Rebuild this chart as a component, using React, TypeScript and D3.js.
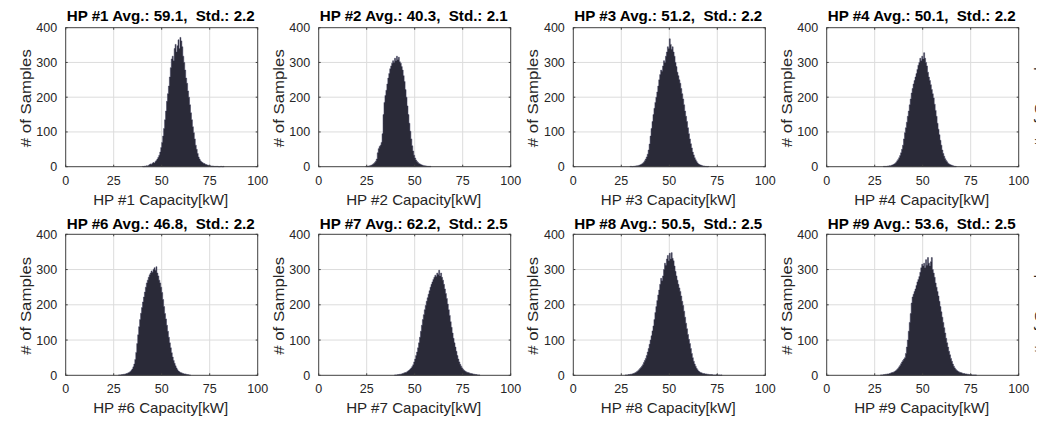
import React from 'react';
import * as d3 from 'd3';

// ---- data ----
const BIN_WIDTH = 0.5;
const hpIds = ['1', '2', '3', '4', '6', '7', '8', '9'];
const avgLabels = ['59.1', '40.3', '51.2', '50.1', '46.8', '62.2', '50.5', '53.6'];
const stdLabels = ['2.2', '2.1', '2.2', '2.2', '2.2', '2.5', '2.5', '2.5'];
const binStarts = [40, 24.5, 29.5, 29.5, 27.5, 39.5, 27, 28];
const xTicks = [0, 25, 50, 75, 100];
const yTicks = [0, 100, 200, 300, 400];

const hp1Counts = [1,0,2,1,3,2,4,6,8,7,10,12,11,15,18,22,27,33,42,55,70,88,110,135,160,188,210,232,258,285,310,318,305,340,352,330,348,365,340,372,362,345,318,300,278,255,240,218,200,178,155,135,115,98,80,62,50,38,28,22,17,14,12,10,9,7,6,5,4,4,3,2,2,2,1,1,1,1,1,0,0,1,1,0,1];
const hp2Counts = [1,1,2,2,3,4,5,7,9,12,16,22,40,52,58,62,70,95,150,185,205,220,238,255,268,282,290,298,305,300,312,305,318,308,315,302,298,288,278,262,245,222,200,175,150,125,102,80,60,45,33,25,19,15,12,9,8,6,5,4,3,3,2,2,1,1,1,1];
const hp3Counts = [1,1,0,1,1,2,2,3,3,4,5,6,8,10,13,17,22,28,36,48,65,88,110,130,150,168,185,200,215,232,250,265,278,275,290,305,300,318,330,345,340,368,352,338,345,330,318,300,288,272,262,250,240,225,210,195,178,160,145,130,112,95,80,66,54,42,34,26,20,15,11,8,6,5,4,3,2,2,1,1,0,1];
const hp4Counts = [1,1,1,1,2,2,3,3,4,5,6,8,10,13,17,21,26,32,40,50,62,80,98,112,128,145,160,178,195,212,225,238,248,258,268,280,292,300,312,305,318,310,328,312,300,290,272,258,248,236,222,210,198,180,162,145,125,108,92,76,62,48,38,30,23,18,14,10,8,6,5,4,3,2,1,1];
const hp6Counts = [1,1,1,2,2,3,3,4,5,6,7,9,11,14,18,24,32,45,65,90,115,138,158,176,192,208,222,236,250,262,270,278,285,290,296,292,300,305,298,308,290,282,270,262,250,235,215,195,175,160,142,125,108,92,78,64,52,42,34,27,21,16,12,10,8,7,6,5,4,4,3,2,2,1,1];
const hp7Counts = [1,1,1,2,2,3,3,4,5,6,7,8,9,11,13,15,18,21,25,30,38,46,56,66,78,92,108,125,142,158,172,186,198,210,220,230,240,250,258,265,272,278,284,280,290,286,298,282,290,278,270,258,245,232,218,202,186,170,152,136,120,105,92,80,68,56,46,38,31,26,21,17,14,12,10,9,8,7,6,5,5,4,3,3,2,2,1,1,1];
const hp8Counts = [1,1,1,2,2,3,3,4,5,6,7,9,11,13,16,19,22,26,30,36,42,48,56,66,76,88,100,112,126,140,158,178,195,212,228,242,258,275,268,282,300,318,312,330,340,325,346,330,348,332,325,310,295,282,270,258,248,238,225,210,198,182,165,148,132,116,102,90,76,62,50,40,32,26,20,16,12,10,8,7,6,5,5,4,4,3,3,2,2,2,2,1,1,1,1,2,1,1,1,0,1];
const hp9Counts = [1,1,1,2,2,3,3,4,4,5,6,7,8,9,10,12,14,17,20,24,28,33,38,42,46,50,62,80,100,125,150,175,205,222,230,238,245,255,265,272,280,292,305,315,310,318,305,328,312,334,318,310,322,334,300,290,278,262,250,238,225,210,195,180,165,150,135,120,105,92,80,68,58,48,40,32,26,21,17,14,12,10,9,8,7,6,5,5,4,4,3,3,2,2,2,1,1,1,1,1];

const countsList = [hp1Counts, hp2Counts, hp3Counts, hp4Counts, hp6Counts, hp7Counts, hp8Counts, hp9Counts];

// ---- layout ----
const W = 1041;
const H = 423;
const colLefts = [65.7, 318.7, 573.3, 826.7];
const plotW = 192;
const rowTops = [27.7, 234.3];
const rowHeights = [139, 141];
const titleGap = [7, 5];

const FONT = 'Liberation Sans, Arial, Helvetica, sans-serif';
const textColor = '#262626';
const axisColor = '#404040';
const gridColor = '#dcdcdc';
const barColor = '#2a2a38';
const barEdge = '#3a3a58';

type Bin = { x: number; c: number };

function Panel({ idx }: { idx: number }) {
  const col = idx % 4;
  const row = Math.floor(idx / 4);
  const left = colLefts[col];
  const top = rowTops[row];
  const h = rowHeights[row];
  const x = d3.scaleLinear().domain([0, 100]).range([left, left + plotW]);
  const y = d3.scaleLinear().domain([0, 400]).range([top + h, top]);
  const counts = countsList[idx];
  const start = binStarts[idx];
  const id = hpIds[idx];

  const bins: Bin[] = counts.map((c, k) => ({ x: start + k * BIN_WIDTH, c }));
  bins.push({ x: start + counts.length * BIN_WIDTH, c: 0 });
  const area = d3
    .area<Bin>()
    .x((d) => x(d.x))
    .y0(y(0))
    .y1((d) => y(d.c))
    .curve(d3.curveStepAfter);

  return (
    <g>
      {/* grid */}
      {xTicks.slice(1, -1).map((t) => (
        <line key={'gx' + t} x1={x(t)} x2={x(t)} y1={top} y2={top + h} stroke={gridColor} strokeWidth={1} />
      ))}
      {yTicks.slice(1, -1).map((t) => (
        <line key={'gy' + t} x1={left} x2={left + plotW} y1={y(t)} y2={y(t)} stroke={gridColor} strokeWidth={1} />
      ))}
      {/* histogram bars */}
      <path d={area(bins) || ''} fill={barColor} stroke={barEdge} strokeWidth={0.5} />
      {/* box */}
      <rect x={left} y={top} width={plotW} height={h} fill="none" stroke={axisColor} strokeWidth={1} />
      {/* ticks */}
      {xTicks.map((t) => (
        <g key={'tx' + t}>
          <line x1={x(t)} x2={x(t)} y1={top + h} y2={top + h - 2} stroke={axisColor} />
          <line x1={x(t)} x2={x(t)} y1={top} y2={top + 2} stroke={axisColor} />
          <text x={x(t)} y={top + h + 18} textAnchor="middle" fontSize={12.5} fontFamily={FONT} fill={textColor}>
            {t}
          </text>
        </g>
      ))}
      {yTicks.map((t) => (
        <g key={'ty' + t}>
          <line x1={left} x2={left + 2} y1={y(t)} y2={y(t)} stroke={axisColor} />
          <line x1={left + plotW} x2={left + plotW - 2} y1={y(t)} y2={y(t)} stroke={axisColor} />
          <text x={left - 8.5} y={y(t)} dy="0.36em" textAnchor="end" fontSize={12.5} fontFamily={FONT} fill={textColor}>
            {t}
          </text>
        </g>
      ))}
      {/* title */}
      <text
        x={left + plotW / 2 - 1}
        y={top - titleGap[row]}
        textAnchor="middle"
        fontSize={15}
        fontWeight="bold"
        fontFamily={FONT}
        fill="#000"
        textLength={188}
        lengthAdjust="spacingAndGlyphs"
        style={{ whiteSpace: 'pre' }}
      >
        {`HP #${id} Avg.: ${avgLabels[idx]},  Std.: ${stdLabels[idx]}`}
      </text>
      {/* x label */}
      <text
        x={left + plotW / 2 - 1}
        y={top + h + 38}
        textAnchor="middle"
        fontSize={15}
        fontFamily={FONT}
        fill={textColor}
        textLength={135}
        lengthAdjust="spacingAndGlyphs"
      >
        {`HP #${id} Capacity[kW]`}
      </text>
      {/* y label */}
      <text
        transform={`translate(${left - 35},${top + h / 2 + 1}) rotate(-90)`}
        textAnchor="middle"
        fontSize={15}
        fontFamily={FONT}
        fill={textColor}
        textLength={98}
        lengthAdjust="spacingAndGlyphs"
      >
        # of Samples
      </text>
    </g>
  );
}

export default function App() {
  return (
    <svg
      width={W}
      height={H}
      style={{ position: 'absolute', left: 0, top: 0, background: '#fff', overflow: 'hidden' }}
    >
      <defs>
        <clipPath id="edgeClip">
          <rect x={1000} y={0} width={36} height={H} />
        </clipPath>
      </defs>
      <rect x={0} y={0} width={W} height={H} fill="#fff" />
      {countsList.map((_, i) => (
        <Panel key={i} idx={i} />
      ))}
      {/* y-labels of a fifth column, cut at the figure edge: only glyph tips show */}
      <g clipPath="url(#edgeClip)">
        {rowTops.map((t, r) => (
          <text
            key={'cut' + r}
            transform={`translate(${colLefts[3] + 253.5 - 35},${t + rowHeights[r] / 2 + 1}) rotate(-90)`}
            textAnchor="middle"
            fontSize={15}
            fontFamily={FONT}
            fill={textColor}
            textLength={98}
            lengthAdjust="spacingAndGlyphs"
          >
            # of Samples
          </text>
        ))}
      </g>
    </svg>
  );
}
